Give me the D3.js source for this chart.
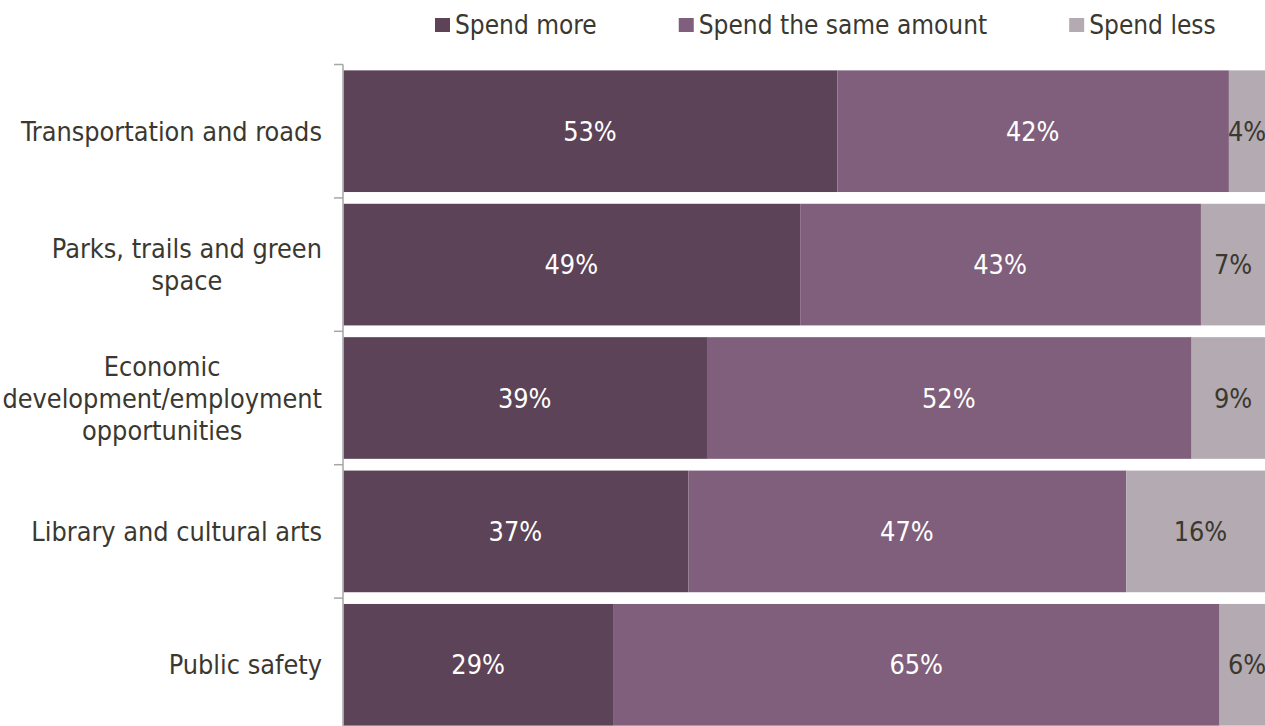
<!DOCTYPE html>
<html>
<head>
<meta charset="utf-8">
<script src="https://cdn.jsdelivr.net/npm/d3@7"></script>
<style>
	html, body { margin: 0; padding: 0; background: #fff; }
	svg { display: block; }
	text { font-family: "DejaVu Sans Condensed", "DejaVu Sans", sans-serif; font-stretch: condensed; }
</style>
</head>
<body>
<svg id="chart"></svg>
<script>
// data
var categories = [
	["Transportation and roads"],
	["Parks, trails and green", "space"],
	["Economic", "development/employment", "opportunities"],
	["Library and cultural arts"],
	["Public safety"]
];
var seriesNames = ["Spend more", "Spend the same amount", "Spend less"];
var spendMore = [53, 49, 39, 37, 29];
var spendSame = [42, 43, 52, 47, 65];
var spendLess = [4, 7, 9, 16, 6];

var colors = ["#5C4357", "#7F5F7B", "#B3AAB2"];
var labelColors = ["#ffffff", "#ffffff", "#3A382F"];

var W = 1265, H = 726;
var fontSize = 26.8;

var svg = d3.select("#chart").attr("width", W).attr("height", H);

var rows = categories.map(function(c, i){
	return { key: i, name: c, more: spendMore[i], same: spendSame[i], less: spendLess[i] };
});
var keys = ["more", "same", "less"];
var stack = d3.stack().keys(keys)(rows);

var x = d3.scaleLinear().domain([0, 100]).range([343, 1275]);
var y = d3.scaleBand().domain(d3.range(categories.length)).range([64.5, 731.5]).paddingInner(0.088).paddingOuter(0.044);

// bars
var layers = svg.append("g").selectAll("g").data(stack).enter().append("g")
	.attr("fill", function(d, i){ return colors[i]; });

layers.selectAll("rect").data(function(d){ return d; }).enter().append("rect")
	.attr("x", function(d){ return x(d[0]) + 0.5; })
	.attr("y", function(d){ return y(d.data.key); })
	.attr("width", function(d){ return Math.max(0, x(d[1]) - x(d[0])); })
	.attr("height", y.bandwidth());

// value labels
layers.each(function(layer, li){
	d3.select(this).selectAll("text").data(layer).enter().append("text")
		.attr("x", function(d){ return (x(d[0]) + x(d[1])) / 2; })
		.attr("y", function(d){ return y(d.data.key) + y.bandwidth() / 2; })
		.attr("text-anchor", "middle")
		.attr("dominant-baseline", "central")
		.attr("font-size", fontSize)
		.attr("fill", labelColors[li])
		.text(function(d){ return (d[1] - d[0]) + "%"; });
});

// category axis
var axis = svg.append("g");
axis.append("line")
	.attr("x1", 343).attr("x2", 343)
	.attr("y1", y.range()[0]).attr("y2", H)
	.attr("stroke", "#A6A6A6").attr("stroke-width", 1.5);
var step = y.step();
axis.selectAll(".tick").data(d3.range(categories.length)).enter().append("line")
	.attr("x1", 334).attr("x2", 343)
	.attr("y1", function(d){ return y.range()[0] + d * step; })
	.attr("y2", function(d){ return y.range()[0] + d * step; })
	.attr("stroke", "#A6A6A6").attr("stroke-width", 1.5);

// category labels: block right-aligned, lines centred inside it
var lineH = 32;
var labelRight = 322;
categories.forEach(function(lines, i){
	var g = svg.append("g");
	var texts = lines.map(function(s){
		return g.append("text").attr("font-size", fontSize).attr("fill", "#3A382F")
			.attr("text-anchor", "middle").attr("dominant-baseline", "central").text(s);
	});
	var blockW = d3.max(texts, function(t){ return t.node().getComputedTextLength(); });
	var cx = labelRight - blockW / 2;
	var cy = y(i) + y.bandwidth() / 2;
	texts.forEach(function(t, j){
		t.attr("x", cx).attr("y", cy + (j - (lines.length - 1) / 2) * lineH);
	});
});

// legend
var legend = svg.append("g");
var lx = 435;
seriesNames.forEach(function(name, i){
	legend.append("rect").attr("x", lx).attr("y", 18).attr("width", 15).attr("height", 14).attr("fill", colors[i]);
	var t = legend.append("text").attr("x", lx + 20).attr("y", 34)
		.attr("font-size", 26).attr("fill", "#3A382F").text(name);
	lx += 20 + t.node().getComputedTextLength() + 82;
});
</script>
</body>
</html>
